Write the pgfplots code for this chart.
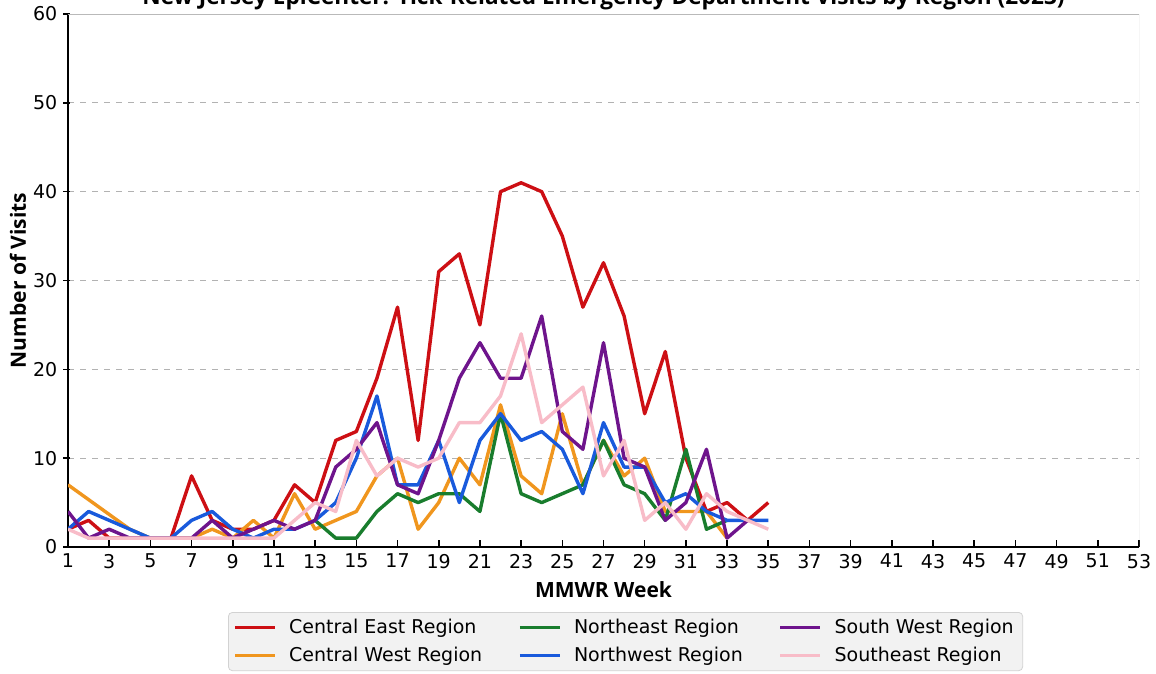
\documentclass[border=0pt]{standalone}
\usepackage{fontspec}
\setmainfont{DejaVu Sans}
\newfontfamily\labfont{Open Sans}
\usepackage{pgfplots}
\pgfplotsset{compat=1.18}

\definecolor{ce}{RGB}{205,15,20}
\definecolor{cw}{RGB}{240,150,30}
\definecolor{ne}{RGB}{25,125,45}
\definecolor{nw}{RGB}{25,90,220}
\definecolor{sw}{RGB}{110,20,140}
\definecolor{se}{RGB}{248,188,200}
\definecolor{legfill}{RGB}{242,242,242}
\definecolor{legdraw}{RGB}{210,210,210}

\begin{document}
\begin{tikzpicture}
\begin{axis}[
    scale only axis,
    width=535.5pt, height=266.5pt,
    xmin=1, xmax=53, ymin=0, ymax=60,
    xtick={1,3,...,53}, ytick={0,10,...,60},
    axis lines=left,
    axis line style={-, line width=1.3pt, black},
    tick align=inside,
    major tick length=3.5pt,
    tick style={black, line width=0.8pt},
    ytick style={xshift=-2.5pt},
    yticklabel style={xshift=-1.8pt},
    tick label style={font=\fontsize{9.5}{11}\selectfont},
    /pgf/number format/assume math mode=true,
    ymajorgrids,
    grid style={dashed, gray!60, line width=0.4pt},
    xlabel={MMWR Week},
    xlabel style={at={(axis description cs:0.5,-0.0807)}, anchor=center,
        font=\labfont\bfseries\fontsize{10.5}{12}\selectfont},
    ylabel={Number of Visits},
    ylabel style={at={(axis description cs:-0.0467,0.5)}, anchor=center,
        font=\labfont\bfseries\fontsize{10.5}{12}\selectfont},
    legend columns=3,
    legend image code/.code={\draw[#1] (0pt,0pt) -- (20pt,0pt);},
    legend style={at={(0.1494,-0.1220)}, anchor=north west,
        fill=legfill, draw=legdraw, rounded corners=2pt,
        font=\fontsize{9.5}{11}\selectfont,
        inner xsep=2.5pt, inner ysep=1.2pt,
        nodes={inner ysep=2pt},
        cells={anchor=west},
        /tikz/row sep=1.3pt,
        /tikz/every odd column/.append style={column sep=4.3pt},
        /tikz/every even column/.append style={column sep=16pt}},
    every axis plot/.append style={line width=1.7pt, line join=round},
]
% legend in matplotlib column order
\addlegendimage{ce, line width=1.6pt}
\addlegendentry{Central East Region}
\addlegendimage{ne, line width=1.6pt}
\addlegendentry{Northeast Region}
\addlegendimage{sw, line width=1.6pt}
\addlegendentry{South West Region}
\addlegendimage{cw, line width=1.6pt}
\addlegendentry{Central West Region}
\addlegendimage{nw, line width=1.6pt}
\addlegendentry{Northwest Region}
\addlegendimage{se, line width=1.6pt}
\addlegendentry{Southeast Region}

% Central East
\addplot[ce, forget plot] coordinates {
    (1,2) (2,3) (3,1) (4,1) (5,1) (6,1) (7,8) (8,3) (9,2) (10,2)
    (11,3) (12,7) (13,5) (14,12) (15,13) (16,19) (17,27) (18,12) (19,31) (20,33)
    (21,25) (22,40) (23,41) (24,40) (25,35) (26,27) (27,32) (28,26) (29,15) (30,22)
    (31,10) (32,4) (33,5) (34,3) (35,5)
};
% Central West
\addplot[cw, forget plot] coordinates {
    (1,7) (4,2) (5,1) (6,1) (7,1) (8,2) (9,1) (10,3)
    (11,1) (12,6) (13,2) (14,3) (15,4) (16,8) (17,10) (18,2) (19,5) (20,10)
    (21,7) (22,16) (23,8) (24,6) (25,15) (26,7) (27,12) (28,8) (29,10) (30,4)
    (31,4) (32,4) (33,1)
};
% Northeast
\addplot[ne, forget plot] coordinates {
    (13,3) (14,1) (15,1) (16,4) (17,6) (18,5) (19,6) (20,6)
    (21,4) (22,15) (23,6) (24,5) (25,6) (26,7) (27,12) (28,7) (29,6) (30,3)
    (31,11) (32,2) (33,3)
};
% Northwest
\addplot[nw, forget plot] coordinates {
    (1,2) (2,4) (3,3) (4,2) (5,1) (6,1) (7,3) (8,4) (9,2) (10,1)
    (11,2) (12,2) (13,3) (14,5) (15,10) (16,17) (17,7) (18,7) (19,12) (20,5)
    (21,12) (22,15) (23,12) (24,13) (25,11) (26,6) (27,14) (28,9) (29,9) (30,5)
    (31,6) (32,4) (33,3) (34,3) (35,3)
};
% South West
\addplot[sw, forget plot] coordinates {
    (1,4) (2,1) (3,2) (4,1) (5,1) (6,1) (7,1) (8,3) (9,1) (10,2)
    (11,3) (12,2) (13,3) (14,9) (15,11) (16,14) (17,7) (18,6) (19,12) (20,19)
    (21,23) (22,19) (23,19) (24,26) (25,13) (26,11) (27,23) (28,10) (29,9) (30,3)
    (31,5) (32,11) (33,1) (34,3)
};
% Southeast
\addplot[se, forget plot] coordinates {
    (1,2) (2,1) (3,1) (4,1) (5,1) (6,1) (7,1) (8,1) (9,1) (10,1)
    (11,1) (12,3) (13,5) (14,4) (15,12) (16,8) (17,10) (18,9) (19,10) (20,14)
    (21,14) (22,17) (23,24) (24,14) (25,16) (26,18) (27,8) (28,12) (29,3) (30,5)
    (31,2) (32,6) (33,4) (34,3) (35,2)
};

\draw[gray!55, line width=0.5pt] (rel axis cs:0,1) -- (rel axis cs:1,1) -- (rel axis cs:1,0);
\end{axis}
% title: only its lower part lies on the page, as in the reference
\node[anchor=base, inner sep=0pt, font=\labfont\bfseries\fontsize{11.3}{13}\selectfont]
    at (267.75pt,271pt)
    {New Jersey EpiCenter: Tick-Related Emergency Department Visits by Region (2023)};
\pgfresetboundingbox
\useasboundingbox (-34pt,-63.5pt) rectangle (544pt,273.5pt);
\end{tikzpicture}
\end{document}
